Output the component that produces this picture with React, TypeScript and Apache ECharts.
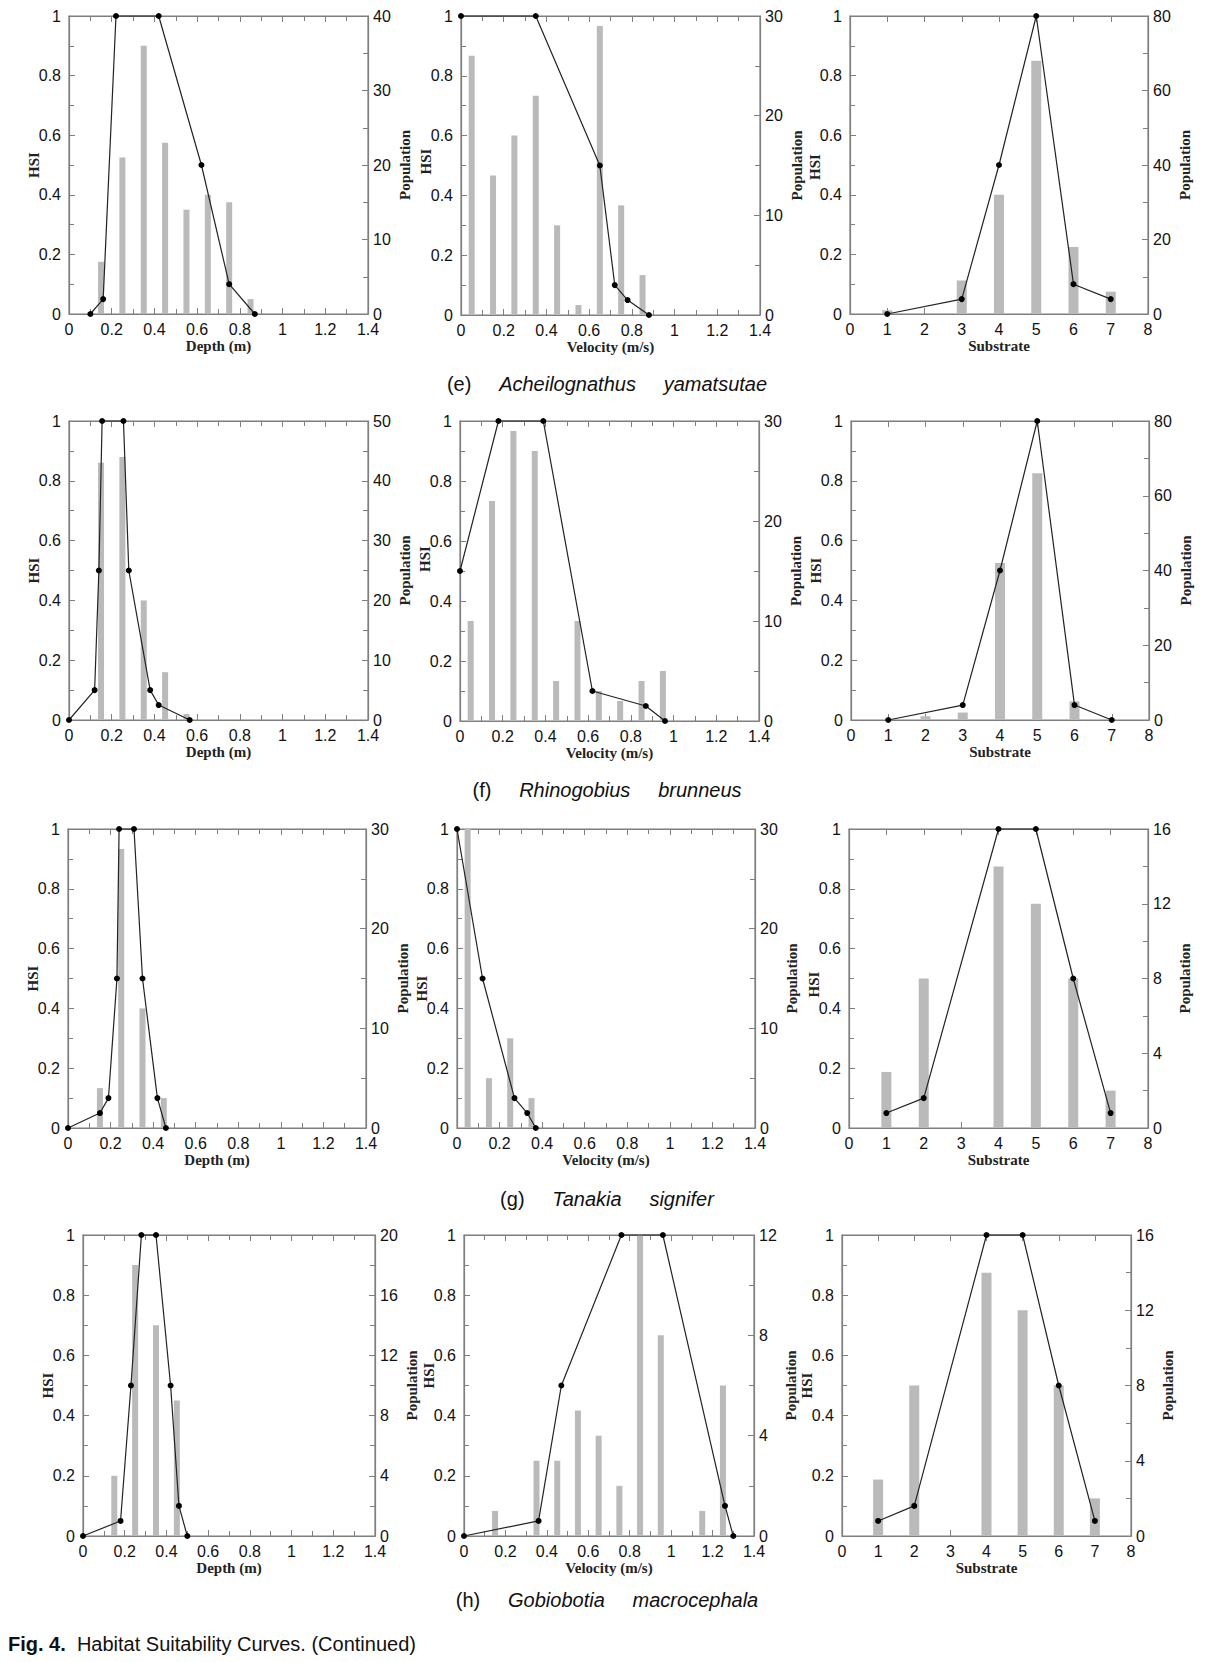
import React, { useEffect, useRef } from "react";
import * as echarts from "echarts";

// ---------- data: (e) Acheilognathus yamatsutae ----------
const eDepthHSI = [[0.1, 0], [0.16, 0.05], [0.22, 1], [0.42, 1], [0.62, 0.5], [0.75, 0.1], [0.87, 0]];
const eDepthPop = [[0.15, 7], [0.25, 21], [0.35, 36], [0.45, 23], [0.55, 14], [0.65, 16], [0.75, 15], [0.85, 2]];
const eVelHSI = [[0, 1], [0.35, 1], [0.65, 0.5], [0.72, 0.1], [0.78, 0.05], [0.88, 0]];
const eVelPop = [[0.05, 26], [0.15, 14], [0.25, 18], [0.35, 22], [0.45, 9], [0.55, 1], [0.65, 29], [0.75, 11], [0.85, 4]];
const eSubHSI = [[1, 0], [3, 0.05], [4, 0.5], [5, 1], [6, 0.1], [7, 0.05]];
const eSubPop = [[1, 1], [3, 9], [4, 32], [5, 68], [6, 18], [7, 6]];

// ---------- data: (f) Rhinogobius brunneus ----------
const fDepthHSI = [[0, 0], [0.12, 0.1], [0.14, 0.5], [0.155, 1], [0.255, 1], [0.28, 0.5], [0.38, 0.1], [0.42, 0.05], [0.565, 0]];
const fDepthPop = [[0.15, 43], [0.25, 44], [0.35, 20], [0.45, 8], [0.55, 1]];
const fVelHSI = [[0, 0.5], [0.18, 1], [0.39, 1], [0.62, 0.1], [0.87, 0.05], [0.96, 0]];
const fVelPop = [[0.05, 10], [0.15, 22], [0.25, 29], [0.35, 27], [0.45, 4], [0.55, 10], [0.65, 3], [0.75, 2], [0.85, 4], [0.95, 5]];
const fSubHSI = [[1, 0], [3, 0.05], [4, 0.5], [5, 1], [6, 0.05], [7, 0]];
const fSubPop = [[2, 1], [3, 2], [4, 42], [5, 66], [6, 5]];

// ---------- data: (g) Tanakia signifer ----------
const gDepthHSI = [[0, 0], [0.15, 0.05], [0.19, 0.1], [0.23, 0.5], [0.24, 1], [0.31, 1], [0.35, 0.5], [0.42, 0.1], [0.46, 0]];
const gDepthPop = [[0.15, 4], [0.25, 28], [0.35, 12], [0.45, 3]];
const gVelHSI = [[0, 1], [0.12, 0.5], [0.27, 0.1], [0.33, 0.05], [0.37, 0]];
const gVelPop = [[0.05, 30], [0.15, 5], [0.25, 9], [0.35, 3]];
const gSubHSI = [[1, 0.05], [2, 0.1], [4, 1], [5, 1], [6, 0.5], [7, 0.05]];
const gSubPop = [[1, 3], [2, 8], [4, 14], [5, 12], [6, 8], [7, 2]];

// ---------- data: (h) Gobiobotia macrocephala ----------
const hDepthHSI = [[0, 0], [0.18, 0.05], [0.23, 0.5], [0.28, 1], [0.35, 1], [0.42, 0.5], [0.46, 0.1], [0.5, 0]];
const hDepthPop = [[0.15, 4], [0.25, 18], [0.35, 14], [0.45, 9]];
const hVelHSI = [[0, 0], [0.36, 0.05], [0.47, 0.5], [0.76, 1], [0.96, 1], [1.26, 0.1], [1.3, 0]];
const hVelPop = [[0.15, 1], [0.35, 3], [0.45, 3], [0.55, 5], [0.65, 4], [0.75, 2], [0.85, 12], [0.95, 8], [1.15, 1], [1.25, 6]];
const hSubHSI = [[1, 0.05], [2, 0.1], [4, 1], [5, 1], [6, 0.5], [7, 0.05]];
const hSubPop = [[1, 3], [2, 8], [4, 14], [5, 12], [6, 8], [7, 2]];

// ---------- axis ranges ----------
const popMax = [40, 30, 80, 50, 30, 80, 30, 30, 16, 20, 12, 16];
const popStep = [10, 10, 20, 10, 10, 20, 10, 10, 4, 4, 4, 4];
const xTitles = { depth: "Depth (m)", vel: "Velocity (m/s)", sub: "Substrate" };

const captions = [
  { tag: "(e)", name: "Acheilognathus     yamatsutae", y: 384 },
  { tag: "(f)", name: "Rhinogobius     brunneus", y: 790 },
  { tag: "(g)", name: "Tanakia     signifer", y: 1199 },
  { tag: "(h)", name: "Gobiobotia     macrocephala", y: 1600 },
];

// ---------- layout ----------
const panels = [
  { hsi: eDepthHSI, pop: eDepthPop, kind: "depth", l: 69, t: 16, w: 299, h: 298, dy: 0 },
  { hsi: eVelHSI, pop: eVelPop, kind: "vel", l: 461, t: 16, w: 299, h: 299, dy: -4 },
  { hsi: eSubHSI, pop: eSubPop, kind: "sub", l: 850, t: 16, w: 298, h: 298, dy: 2 },
  { hsi: fDepthHSI, pop: fDepthPop, kind: "depth", l: 69, t: 421, w: 299, h: 299, dy: 0 },
  { hsi: fVelHSI, pop: fVelPop, kind: "vel", l: 460, t: 421, w: 299, h: 300, dy: -12 },
  { hsi: fSubHSI, pop: fSubPop, kind: "sub", l: 851, t: 421, w: 298, h: 299, dy: 0 },
  { hsi: gDepthHSI, pop: gDepthPop, kind: "depth", l: 68, t: 829, w: 298, h: 299, dy: 0 },
  { hsi: gVelHSI, pop: gVelPop, kind: "vel", l: 457, t: 829, w: 298, h: 299, dy: 10 },
  { hsi: gSubHSI, pop: gSubPop, kind: "sub", l: 849, t: 829, w: 299, h: 299, dy: 6 },
  { hsi: hDepthHSI, pop: hDepthPop, kind: "depth", l: 83, t: 1235, w: 292, h: 301, dy: 0 },
  { hsi: hVelHSI, pop: hVelPop, kind: "vel", l: 464, t: 1235, w: 290, h: 301, dy: -10 },
  { hsi: hSubHSI, pop: hSubPop, kind: "sub", l: 842, t: 1235, w: 289, h: 301, dy: 0 },
];

const FRAME = "#7f7f7f";
const TICK_FONT = "'Liberation Sans', Arial, sans-serif";
const TITLE_FONT = "'Liberation Serif', 'Times New Roman', serif";

// fresh style objects for every axis (no shared references)
const mkLine = () => ({ show: true, onZero: false, lineStyle: { color: FRAME, width: 1.2 } });
const mkTick = () => ({ show: true, inside: true, length: 6, lineStyle: { color: FRAME, width: 1 } });
const mkMinor = (show: boolean) => ({ show, splitNumber: 2, length: 5, lineStyle: { color: FRAME, width: 1 } });
const mkLabel = (margin: number) => ({ show: true, color: "#111", fontSize: 16, fontFamily: TICK_FONT, margin });

function buildOption() {
  const grid: any[] = [];
  const xAxis: any[] = [];
  const yAxis: any[] = [];
  const series: any[] = [];
  const graphic: any[] = [];

  panels.forEach((p, i) => {
    const isSub = p.kind === "sub";
    grid.push({
      left: p.l,
      top: p.t,
      width: p.w,
      height: p.h,
      show: true,
      borderColor: FRAME,
      borderWidth: 1.2,
      backgroundColor: "transparent",
    });
    xAxis.push({
      gridIndex: i,
      type: "value",
      position: "bottom",
      min: 0,
      max: isSub ? 8 : 1.4,
      interval: isSub ? 1 : 0.2,
      axisLine: mkLine(),
      axisTick: mkTick(),
      minorTick: mkMinor(!isSub),
      splitLine: { show: false },
      axisLabel: mkLabel(7),
      name: (xTitles as any)[p.kind],
      nameLocation: "middle",
      nameGap: 24,
      nameTextStyle: { fontFamily: TITLE_FONT, fontWeight: "bold", fontSize: 15, color: "#222" },
    });
    xAxis.push({
      gridIndex: i,
      type: "value",
      position: "top",
      min: 0,
      max: isSub ? 8 : 1.4,
      interval: isSub ? 1 : 0.2,
      axisLine: mkLine(),
      axisTick: mkTick(),
      minorTick: mkMinor(!isSub),
      splitLine: { show: false },
      axisLabel: { show: false },
    });
    yAxis.push({
      gridIndex: i,
      type: "value",
      position: "left",
      min: 0,
      max: 1,
      interval: 0.2,
      axisLine: mkLine(),
      axisTick: mkTick(),
      minorTick: mkMinor(true),
      splitLine: { show: false },
      axisLabel: mkLabel(8),
    });
    yAxis.push({
      gridIndex: i,
      type: "value",
      position: "right",
      min: 0,
      max: popMax[i],
      interval: popStep[i],
      axisLine: mkLine(),
      axisTick: mkTick(),
      minorTick: mkMinor(true),
      splitLine: { show: false },
      axisLabel: mkLabel(5),
    });

    series.push({
      type: "bar",
      xAxisIndex: 2 * i,
      yAxisIndex: 2 * i + 1,
      data: p.pop,
      barWidth: isSub ? 10 : 6,
      itemStyle: { color: "#bababa" },
      z: 1,
    });
    series.push({
      type: "line",
      xAxisIndex: 2 * i,
      yAxisIndex: 2 * i,
      data: p.hsi,
      symbol: "circle",
      symbolSize: 6,
      showAllSymbol: true,
      clip: false,
      lineStyle: { color: "#222", width: 1.2 },
      itemStyle: { color: "#000" },
      z: 3,
    });

    const midY = p.t + p.h / 2;
    graphic.push({
      type: "text",
      x: p.l - 35,
      y: midY + p.dy,
      rotation: Math.PI / 2,
      style: {
        text: "HSI",
        fontFamily: TITLE_FONT,
        fontWeight: "bold",
        fontSize: 15,
        fill: "#222",
        align: "center",
        verticalAlign: "middle",
      },
    });
    graphic.push({
      type: "text",
      x: p.l + p.w + 37,
      y: midY,
      rotation: Math.PI / 2,
      style: {
        text: "Population",
        fontFamily: TITLE_FONT,
        fontWeight: "bold",
        fontSize: 15,
        fill: "#222",
        align: "center",
        verticalAlign: "middle",
      },
    });
  });

  captions.forEach((c) => {
    graphic.push({
      type: "text",
      x: 607,
      y: c.y,
      style: {
        text: c.tag + "     {i|" + c.name + "}",
        fontFamily: TICK_FONT,
        fontSize: 20,
        fill: "#111",
        align: "center",
        verticalAlign: "middle",
        rich: { i: { fontStyle: "italic", fontFamily: TICK_FONT, fontSize: 20, fill: "#111" } },
      },
    });
  });

  graphic.push({
    type: "text",
    x: 8,
    y: 1644,
    style: {
      text: "{b|Fig. 4.}  Habitat Suitability Curves. (Continued)",
      fontFamily: TICK_FONT,
      fontSize: 20,
      fill: "#111",
      align: "left",
      verticalAlign: "middle",
      rich: { b: { fontWeight: "bold", fontFamily: TICK_FONT, fontSize: 20, fill: "#111" } },
    },
  });

  return { animation: false, backgroundColor: "#fff", grid, xAxis, yAxis, series, graphic };
}

export default function App() {
  const ref = useRef<HTMLDivElement>(null);
  useEffect(() => {
    const chart = echarts.init(ref.current as HTMLDivElement, undefined, { renderer: "svg" });
    chart.setOption(buildOption() as any);
    return () => chart.dispose();
  }, []);
  return (
    <div
      ref={ref}
      style={{ position: "absolute", left: 0, top: 0, width: 1214, height: 1662, background: "#fff" }}
    />
  );
}
